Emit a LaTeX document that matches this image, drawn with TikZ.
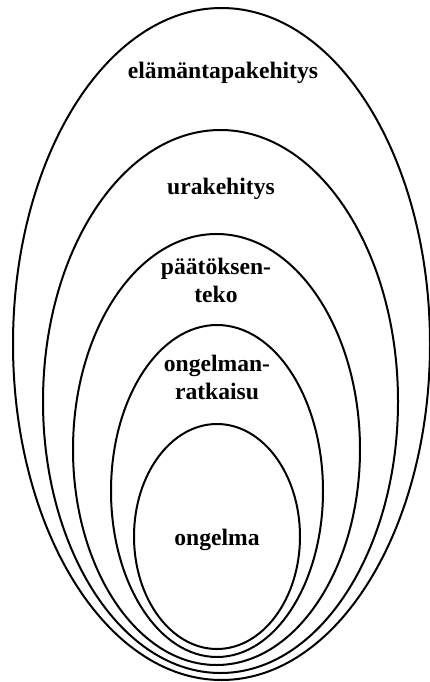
\documentclass[tikz,border=0pt]{standalone}
\usepackage{fontspec}
\setmainfont{Liberation Serif}

\begin{document}
\begin{tikzpicture}[x=1pt,y=-1pt,
    ring/.style={line width=2pt},
    lbl/.style={font=\bfseries\fontsize{23.6}{27.5}\selectfont,align=center,inner sep=0pt,anchor=base}]
  \useasboundingbox (0,0) rectangle (429,682);
  % nested stages, all resting near the bottom
  \draw[ring] (221.5,344) ellipse [x radius=208.5pt,y radius=336pt];
  \draw[ring] (220.5,401.5) ellipse [x radius=177.5pt,y radius=271.5pt];
  \draw[ring] (216.5,449.5) ellipse [x radius=143.5pt,y radius=215.5pt];
  \draw[ring] (217,491) ellipse [x radius=106pt,y radius=166pt];
  \draw[ring] (217,536.5) ellipse [x radius=83pt,y radius=112.5pt];
  \node[lbl] (life) at (223,79) {elämäntapakehitys};
  \node[lbl] (career) at (221,194) {urakehitys};
  \node[lbl] (decision) at (216,302) {päätöksen-\\teko};
  \node[lbl] (solving) at (217,399) {ongelman-\\ratkaisu};
  \node[lbl] (problem) at (217,545) {ongelma};
\end{tikzpicture}
\end{document}
